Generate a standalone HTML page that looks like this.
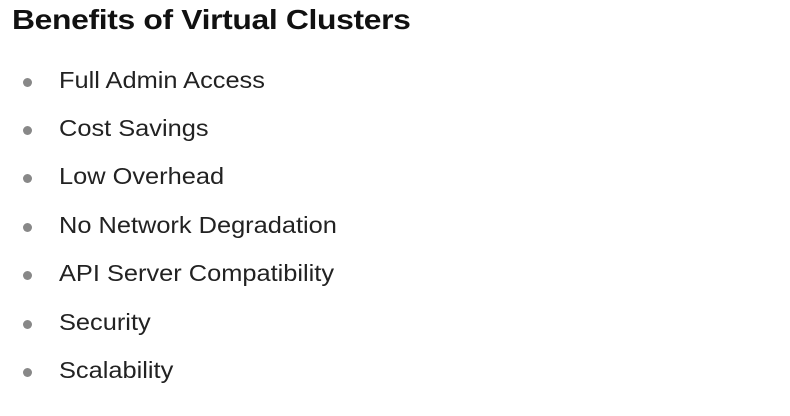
<!DOCTYPE html>
<html><head><style>
html,body{margin:0;padding:0;width:790px;height:416px;background:#fff;overflow:hidden;font-family:"Liberation Sans",sans-serif;}
h1{position:absolute;left:12px;top:4px;margin:0;font-size:28px;font-weight:bold;color:#111;letter-spacing:-0.3px;transform:scaleX(1.137);transform-origin:0 0;white-space:nowrap;}
.item{position:absolute;left:59px;font-size:23.5px;color:#222;transform:scaleX(1.08);transform-origin:0 0;white-space:nowrap;}
.dot{position:absolute;left:23px;width:9px;height:9px;border-radius:50%;background:#888;}
</style></head><body>
<h1>Benefits of Virtual Clusters</h1>
<div class="dot" style="top:78px"></div><div class="item" style="top:67px">Full Admin Access</div>
<div class="dot" style="top:126px"></div><div class="item" style="top:115px">Cost Savings</div>
<div class="dot" style="top:174px"></div><div class="item" style="top:163px">Low Overhead</div>
<div class="dot" style="top:223px"></div><div class="item" style="top:212px">No Network Degradation</div>
<div class="dot" style="top:271px"></div><div class="item" style="top:260px">API Server Compatibility</div>
<div class="dot" style="top:320px"></div><div class="item" style="top:309px">Security</div>
<div class="dot" style="top:368px"></div><div class="item" style="top:357px">Scalability</div>
</body></html>
